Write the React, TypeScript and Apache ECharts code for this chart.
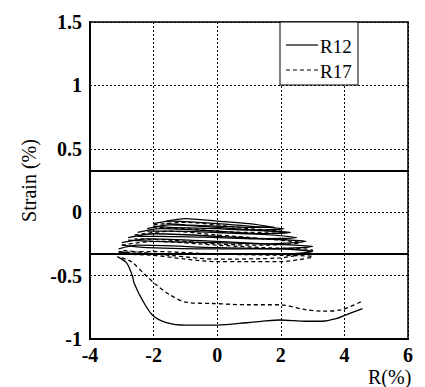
import React, { useEffect, useRef } from "react";
import * as echarts from "echarts";

const xTicks = [-4, -2, 0, 2, 4, 6];
const yTicks = [-1, -0.5, 0, 0.5, 1, 1.5];
const limitLines = [0.33, -0.33];
const legendNames = ["R12", "R17"];

// R12 hysteresis loops (solid)
const r12Loops: number[][][] = [
  [[-1.6, -0.07], [-1, -0.05], [0, -0.07], [1, -0.09], [1.8, -0.12], [1, -0.12], [0, -0.11], [-1, -0.1], [-1.6, -0.09]],
  [[-2.0, -0.09], [-1.5, -0.07], [0, -0.09], [1, -0.11], [2.1, -0.13], [1, -0.14], [0, -0.13], [-1.5, -0.12], [-2.0, -0.11]],
  [[-2.2, -0.13], [-1.5, -0.1], [0, -0.12], [1, -0.14], [2.3, -0.16], [1, -0.17], [0, -0.16], [-1.5, -0.15], [-2.2, -0.15]],
  [[-2.5, -0.16], [-1.8, -0.13], [0, -0.15], [1.2, -0.17], [2.5, -0.2], [1.2, -0.21], [0, -0.2], [-1.8, -0.19], [-2.5, -0.19]],
  [[-2.8, -0.2], [-2, -0.17], [0, -0.19], [1.5, -0.21], [2.8, -0.23], [1.5, -0.25], [0, -0.24], [-2, -0.23], [-2.8, -0.22]],
  [[-3.0, -0.24], [-2.2, -0.21], [0, -0.23], [1.5, -0.25], [3.0, -0.27], [1.5, -0.29], [0, -0.29], [-2.2, -0.28], [-3.0, -0.26]],
  [[-3.1, -0.29], [-2.5, -0.26], [0, -0.28], [2, -0.29], [3.0, -0.31], [2, -0.33], [0, -0.33], [-2.5, -0.33], [-3.1, -0.31]],
];
// R12 lower curve
const r12Lower: number[][] = [
  [-3.14, -0.35], [-2.85, -0.4], [-2.67, -0.5], [-2.61, -0.56], [-2.36, -0.69], [-2.04, -0.81], [-1.6, -0.87],
  [-0.98, -0.89], [0, -0.89], [1.0, -0.87], [1.95, -0.85], [2.8, -0.86], [3.3, -0.86], [3.74, -0.84],
  [4.05, -0.81], [4.57, -0.76],
];

// R17 hysteresis loops (dashed)
const r17Loops: number[][][] = [
  [[-2.0, -0.1], [-1, -0.08], [0, -0.1], [1, -0.13], [2.0, -0.15], [1, -0.16], [0, -0.15], [-1, -0.13], [-2.0, -0.12]],
  [[-2.6, -0.18], [-1.5, -0.15], [0, -0.18], [1.5, -0.21], [2.6, -0.24], [1.5, -0.26], [0, -0.25], [-1.5, -0.22], [-2.6, -0.21]],
  [[-3.0, -0.26], [-2, -0.23], [0, -0.26], [1.5, -0.28], [3.0, -0.3], [2, -0.36], [0, -0.37], [-1.5, -0.34], [-3.0, -0.3]],
  [[-3.1, -0.32], [-2, -0.31], [0, -0.33], [2, -0.34], [3.0, -0.35], [2, -0.39], [0, -0.39], [-1, -0.37], [-2, -0.34], [-3.1, -0.33]],
];
// R17 lower curve
const r17Lower: number[][] = [
  [-3.0, -0.36], [-2.7, -0.39], [-2.24, -0.5], [-1.93, -0.57], [-1.5, -0.65], [-0.98, -0.71], [-0.15, -0.72],
  [1.0, -0.73], [1.95, -0.73], [2.8, -0.77], [3.3, -0.78], [3.9, -0.77], [4.57, -0.7],
];

const FONT = "Liberation Serif";

export default function App() {
  const ref = useRef<HTMLDivElement>(null);
  useEffect(() => {
    if (!ref.current) return;
    const chart = echarts.init(ref.current, undefined, { renderer: "svg" });

    const mk = (name: string, data: number[][], dashed: boolean) => ({
      type: "line" as const,
      name,
      data,
      symbol: "none",
      showSymbol: false,
      smooth: 0.3,
      lineStyle: { color: "#000", width: 1.3, type: dashed ? [4, 3] : "solid" },
      itemStyle: { color: "#000" },
      z: 3,
    });

    const series: any[] = [];
    r12Loops.forEach((d) => series.push(mk(legendNames[0], d, false)));
    series.push(mk(legendNames[0], r12Lower, false));
    r17Loops.forEach((d) => series.push(mk(legendNames[1], d, true)));
    series.push(mk(legendNames[1], r17Lower, true));
    series.push({
      type: "line",
      name: "limits",
      data: [],
      markLine: {
        silent: true,
        symbol: "none",
        label: { show: false },
        lineStyle: { color: "#000", width: 2, type: "solid" },
        data: limitLines.map((v) => ({ yAxis: v })),
      },
    });

    chart.setOption({
      animation: false,
      backgroundColor: "#fff",
      grid: { left: 90, right: 17, top: 22, bottom: 48, show: true, borderColor: "#000", borderWidth: 1.5 },
      xAxis: {
        type: "value",
        min: xTicks[0],
        max: xTicks[xTicks.length - 1],
        interval: 2,
        axisLine: { show: true, onZero: false, lineStyle: { color: "#000", width: 2 } },
        axisTick: { show: false },
        splitLine: { show: true, lineStyle: { color: "#000", type: [2, 2], width: 1 } },
        axisLabel: { fontFamily: FONT, fontSize: 20, fontWeight: "bold", color: "#000", margin: 6 },
      },
      yAxis: {
        type: "value",
        min: yTicks[0],
        max: yTicks[yTicks.length - 1],
        interval: 0.5,
        name: "Strain (%)",
        nameLocation: "middle",
        nameGap: 37,
        nameTextStyle: { fontFamily: FONT, fontSize: 20, color: "#000" },
        axisLine: { show: true, onZero: false, lineStyle: { color: "#000", width: 2 } },
        axisTick: { show: false },
        splitLine: { show: true, lineStyle: { color: "#000", type: [2, 2], width: 1 } },
        axisLabel: {
          fontFamily: FONT,
          fontSize: 20,
          fontWeight: "bold",
          color: "#000",
          margin: 8,
          formatter: (v: number) => String(v),
        },
      },
      graphic: [
        {
          type: "rect",
          shape: { x: 280, y: 22, width: 78, height: 63 },
          style: { fill: "#fff", stroke: "#000", lineWidth: 1 },
          z: 10,
        },
        {
          type: "line",
          shape: { x1: 286, y1: 45, x2: 318, y2: 45 },
          style: { stroke: "#000", lineWidth: 1.2 },
          z: 11,
        },
        {
          type: "line",
          shape: { x1: 286, y1: 70, x2: 318, y2: 70 },
          style: { stroke: "#000", lineWidth: 1.2, lineDash: [4, 3] },
          z: 11,
        },
        {
          type: "text",
          x: 320,
          y: 46,
          style: { text: legendNames[0], font: `19px ${FONT}`, fill: "#000", verticalAlign: "middle" },
          z: 11,
        },
        {
          type: "text",
          x: 320,
          y: 71,
          style: { text: legendNames[1], font: `19px ${FONT}`, fill: "#000", verticalAlign: "middle" },
          z: 11,
        },
        {
          type: "text",
          x: 368,
          y: 367,
          style: { text: "R(%)", font: `20px ${FONT}`, fill: "#000", verticalAlign: "top" },
        },
      ],
      series,
    });
    return () => chart.dispose();
  }, []);
  return (
    <div
      ref={ref}
      style={{ position: "absolute", left: 0, top: 0, width: 425, height: 387 }}
    />
  );
}
